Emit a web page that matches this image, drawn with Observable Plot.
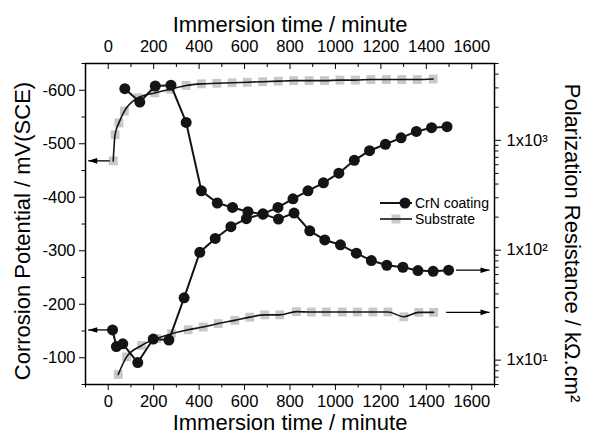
<!DOCTYPE html>
<html><head><meta charset="utf-8">
<script src="https://cdn.jsdelivr.net/npm/d3@7"></script>
<script src="https://cdn.jsdelivr.net/npm/@observablehq/plot@0.6"></script>
<style>
body{margin:0;background:#fff;}
#chart{position:relative;width:590px;height:439px;font-family:"Liberation Sans",Arial,sans-serif;}
#legend{position:absolute;left:375px;top:192px;}
</style></head><body><div id="chart"></div>
<script>
// ---- data ----
const crnPotTime = [19,36,64,130,198,267,334,403,471,540,608,681,747,813,879,947,1015,1083,1150,1220,1289,1356,1423,1491];
const crnPot     = [-152,-121,-126,-91,-135,-133,-212,-297,-323,-345,-360,-369,-381,-397,-412,-427,-445,-469,-487,-499,-511,-523,-530,-532];
const crnResTime = [73,139,207,276,343,410,480,547,615,681,749,818,887,953,1022,1092,1158,1226,1297,1363,1430,1498];
const crnRes     = [2950,2230,3120,3170,1455,347,269,245,224,213,192,218,150,124,112,94,80.5,73,70,65.3,64.2,65.8];
const subPotTime = [22,30,47,71,132,205,273,343,410,478,545,612,680,748,816,884,952,1020,1088,1156,1224,1292,1360,1430];
const subPot     = [-468,-517,-539,-561,-586,-595,-602,-609,-612,-613,-614,-615,-616,-617,-618,-618,-618,-619,-619,-620,-620,-620,-620,-621];
const subResTime = [44,81,147,213,279,352,418,484,557,623,689,755,828,894,960,1030,1096,1165,1231,1301,1367,1432];
const subRes     = [7.4,10.7,13.6,15.7,17.4,18.9,20.0,21.5,23.0,24.6,25.8,25.8,27.6,27.4,27.4,27.4,27.4,27.4,27.4,24.8,27.2,27.2];

const xMajor = [0,200,400,600,800,1000,1200,1400,1600];
const xMinor = [-100,100,300,500,700,900,1100,1300,1500,1700];
const yMajor = [-600,-500,-400,-300,-200,-100];
const yMinor = [-650,-550,-450,-350,-250,-150,-50];
const rMajor = [10,100,1000];
const rLabels = ["1x10\u00B9","1x10\u00B2","1x10\u00B3"];
const rMinor = [6,7,8,9,20,30,40,50,60,70,80,90,200,300,400,500,600,700,800,900,2000,3000,4000,5000];

const seriesNames = ["CrN coating","Substrate"];
const xTitle = "Immersion time / minute";
const yTitle = "Corrosion Potential / mV(SCE)";
const rTitle = "Polarization Resistance / k\u03A9.cm\u00B2";

// ---- scales ----
const W = 590, H = 439, mL = 85, mR = 96, mT = 63, mB = 55;
const innerH = H - mT - mB;
const xDom = [-100, 1700], yDom = [-50, -650], rDom = [6, 5000];
const lr0 = Math.log10(rDom[0]), lr1 = Math.log10(rDom[1]);
const r2y = r => yDom[0] + (Math.log10(r) - lr0) / (lr1 - lr0) * (yDom[1] - yDom[0]);

const zip = (ts, vs) => ts.map((t, i) => ({t, v: vs[i]}));
const crnPotData = zip(crnPotTime, crnPot);
const crnResData = zip(crnResTime, crnRes).map(d => ({t: d.t, v: r2y(d.v)}));
const subPotData = zip(subPotTime, subPot);
const subResData = zip(subResTime, subRes).map(d => ({t: d.t, v: r2y(d.v)}));

const arrows = [
  {y: crnPot[0], x1: crnPotTime[0] - 15, x2: xDom[0] + 12},
  {y: subPot[0], x1: subPotTime[0] - 15, x2: xDom[0] + 12},
  {y: r2y(crnRes[crnRes.length-1]), x1: crnResTime[crnResTime.length-1] + 33, x2: xDom[1] - 22},
  {y: r2y(subRes[subRes.length-1]), x1: subResTime[subResTime.length-1] + 55, x2: xDom[1] - 22}
];
const arrowHead = {draw(ctx) { ctx.moveTo(0,0); ctx.lineTo(-9,-2.8); ctx.lineTo(-9,2.8); ctx.closePath(); }};
const rLabelAt = new Map(rMajor.map((r, i) => [r2y(r), rLabels[i]]));

const GRAY = "#c8c8c8", BLACK = "#141414";
const fmt = d => String(d);
const TF = 16.5;

const plot = Plot.plot({
  width: W, height: H,
  marginLeft: mL, marginRight: mR, marginTop: mT, marginBottom: mB,
  x: {domain: xDom},
  y: {domain: yDom},
  style: {fontFamily: "'Liberation Sans', Arial, sans-serif", fontSize: TF + "px", color: "black", background: "white"},
  marks: [
    // axes
    Plot.axisX(xMajor, {anchor: "bottom", tickSize: 6, tickPadding: 5, label: null, fontSize: TF, tickFormat: fmt}),
    Plot.axisX(xMinor, {anchor: "bottom", tickSize: 3.5, tickFormat: () => "", label: null}),
    Plot.axisX(xMajor, {anchor: "top", tickSize: 0, tickPadding: 12, label: null, fontSize: TF, tickFormat: fmt}),
    Plot.tickX(xMajor, {x: d => d, insetBottom: innerH - 6, stroke: "black"}),
    Plot.tickX(xMinor, {x: d => d, insetBottom: innerH - 4, stroke: "black"}),
    Plot.axisY(yMajor, {anchor: "left", tickSize: 6, tickPadding: 4, label: null, fontSize: TF, tickFormat: fmt}),
    Plot.axisY(yMinor, {anchor: "left", tickSize: 3.5, tickFormat: () => "", label: null}),
    Plot.axisY(rMajor.map(r2y), {anchor: "right", tickSize: 6, tickPadding: 6, label: null, fontSize: TF, tickFormat: d => rLabelAt.get(d)}),
    Plot.axisY(rMinor.map(r2y), {anchor: "right", tickSize: 3.5, tickFormat: () => "", label: null}),
    Plot.frame({stroke: "black", strokeWidth: 1.5}),
    // titles
    Plot.text([xTitle], {text: d => d, frameAnchor: "top", textAnchor: "middle", dy: -47, fontSize: 22}),
    Plot.text([xTitle], {text: d => d, frameAnchor: "bottom", textAnchor: "middle", dy: 45, fontSize: 22}),
    Plot.text([yTitle], {text: d => d, frameAnchor: "left", textAnchor: "middle", lineAnchor: "middle", dx: -63, dy: 7, rotate: -90, fontSize: 22}),
    Plot.text([rTitle], {text: d => d, frameAnchor: "right", textAnchor: "middle", lineAnchor: "middle", dx: 78, dy: 19, rotate: 90, fontSize: 22}),
    // substrate
    Plot.dot(subPotData, {x: "t", y: "v", symbol: "square", r: 5, fill: GRAY}),
    Plot.dot(subResData, {x: "t", y: "v", symbol: "square", r: 5, fill: GRAY}),
    Plot.line(subPotData, {x: "t", y: "v", curve: "monotone-x", stroke: BLACK, strokeWidth: 1.6}),
    Plot.line(subResData, {x: "t", y: "v", curve: "monotone-x", stroke: BLACK, strokeWidth: 1.6}),
    // CrN
    Plot.line(crnPotData, {x: "t", y: "v", stroke: BLACK, strokeWidth: 2}),
    Plot.line(crnResData, {x: "t", y: "v", stroke: BLACK, strokeWidth: 2}),
    Plot.dot(crnPotData, {x: "t", y: "v", r: 5.5, fill: BLACK}),
    Plot.dot(crnResData, {x: "t", y: "v", r: 5.5, fill: BLACK}),
    // arrows
    Plot.link(arrows, {x1: "x1", x2: "x2", y1: "y", y2: "y", stroke: "black", strokeWidth: 1.3}),
    Plot.dot(arrows, {x: "x2", y: "y", symbol: arrowHead, r: 4, fill: "black", stroke: "none", rotate: d => d.x2 < d.x1 ? 180 : 0})
  ]
});
const chart = document.getElementById("chart");
chart.appendChild(plot);

// legend
const legend = document.createElement("div");
legend.id = "legend";
legend.innerHTML = `<svg width="120" height="40" font-family="'Liberation Sans', Arial, sans-serif" font-size="14">
  <line x1="5" y1="11" x2="37" y2="11" stroke="${BLACK}" stroke-width="2"/>
  <circle cx="30" cy="11" r="5.5" fill="${BLACK}"/>
  <text x="40" y="11" dy="0.35em">${seriesNames[0]}</text>
  <rect x="16.5" y="22.5" width="9" height="9" fill="${GRAY}"/>
  <line x1="5" y1="27" x2="37" y2="27" stroke="${BLACK}" stroke-width="1.6"/>
  <text x="40" y="27" dy="0.35em">${seriesNames[1]}</text>
</svg>`;
chart.appendChild(legend);
</script></body></html>
